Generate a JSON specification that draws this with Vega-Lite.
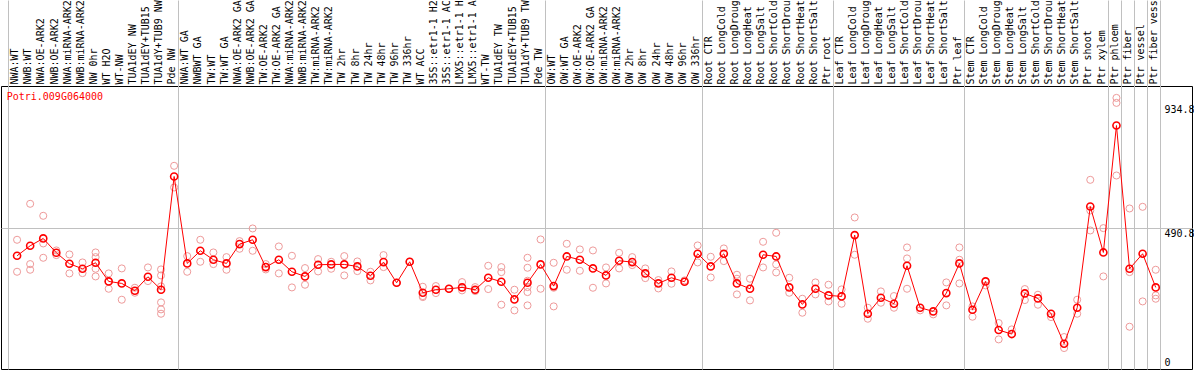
{
"$schema": "https://vega.github.io/schema/vega-lite/v6.json",
"width": 1191, "height": 283,
"autosize": {"type": "none"},
"padding": {"left": 1, "top": 86, "right": 2, "bottom": 1},
"background": "white",
"config": {"view": {"stroke": "black", "strokeWidth": 1}},
"datasets": {
"means": [
{"s":"NWA:WT","v":391.7},{"s":"NWB:WT","v":427.5},{"s":"NWA:OE-ARK2","v":453.8},{"s":"NWB:OE-ARK2","v":402.4},{"s":"NWA:miRNA-ARK2","v":363.1},{"s":"NWB:miRNA-ARK2","v":345.2},{"s":"NW 0hr","v":366.6},{"s":"WT H2O","v":299.8},{"s":"WT-NW","v":292.6},{"s":"TUA1dEY NW","v":266.4},{"s":"TUA1dEY+TUB15","v":316.5},{"s":"TUA1dY+TUB9 NW","v":270.0},{"s":"Pde NW","v":675.8},
{"s":"NWA:WT GA","v":364.3},{"s":"NWBWT GA","v":409.6},{"s":"TW:WT","v":377.4},{"s":"TW:WT GA","v":364.3},{"s":"NWA:OE-ARK2 GA","v":433.5},{"s":"NWB:OE-ARK2 GA","v":449.0},{"s":"TW:OE-ARK2","v":351.1},{"s":"TW:OE-ARK2 GA","v":377.4},{"s":"NWA:miRNA-ARK2 ","v":334.4},{"s":"NWB:miRNA-ARK2 ","v":317.7},{"s":"TW:miRNA-ARK2","v":359.5},{"s":"TW:miRNA-ARK2 ","v":360.7},{"s":"TW 2hr","v":360.7},{"s":"TW 8hr","v":353.5},{"s":"TW 24hr","v":320.1},{"s":"TW 48hr","v":369.0},{"s":"TW 96hr","v":295.0},{"s":"TW 336hr","v":370.2},{"s":"WT ACC","v":259.2},{"s":"35S::etr1-1 H2","v":270.0},{"s":"35S::etr1-1 AC","v":273.5},{"s":"LMX5::etr1-1 H","v":278.3},{"s":"LMX5::etr1-1 A","v":270.0},{"s":"WT-TW","v":312.9},{"s":"TUA1dEY TW","v":298.6},{"s":"TUA1dEY+TUB15 ","v":235.4},{"s":"TUA1dY+TUB9 TW","v":295.0},{"s":"Pde TW","v":360.7},
{"s":"OW:WT","v":283.1},{"s":"OW:WT GA","v":389.3},{"s":"OW:OE-ARK2","v":377.4},{"s":"OW:OE-ARK2 GA","v":346.4},{"s":"OW:miRNA-ARK2","v":321.3},{"s":"OW:miRNA-ARK2 ","v":373.8},{"s":"OW 2hr","v":369.0},{"s":"OW 8hr","v":328.5},{"s":"OW 24hr","v":292.6},{"s":"OW 48hr","v":312.9},{"s":"OW 96hr","v":298.6},{"s":"OW 336hr","v":398.9},
{"s":"Root CTR","v":353.5},{"s":"Root LongCold","v":398.9},{"s":"Root LongDroug","v":292.6},{"s":"Root LongHeat","v":273.5},{"s":"Root LongSalt","v":395.3},{"s":"Root ShortCold","v":389.3},{"s":"Root ShortDrou","v":278.3},{"s":"Root ShortHeat","v":217.5},{"s":"Root ShortSalt","v":273.5},{"s":"Ptr root","v":249.7},
{"s":"Leaf CTR","v":246.1},{"s":"Leaf LongCold","v":465.7},{"s":"Leaf LongDroug","v":184.0},{"s":"Leaf LongHeat","v":241.3},{"s":"Leaf LongSalt","v":219.8},{"s":"Leaf ShortCold","v":355.9},{"s":"Leaf ShortDrou","v":205.5},{"s":"Leaf ShortHeat","v":192.4},{"s":"Leaf ShortSalt","v":258.0},{"s":"Ptr leaf","v":364.3},
{"s":"Stem CTR","v":198.4},{"s":"Stem LongCold","v":299.8},{"s":"Stem LongDroug","v":125.6},{"s":"Stem LongHeat","v":111.2},{"s":"Stem LongSalt","v":256.8},{"s":"Stem ShortCold","v":238.9},{"s":"Stem ShortDrou","v":184.0},{"s":"Stem ShortHeat","v":76.6},{"s":"Stem ShortSalt","v":205.5},{"s":"Ptr shoot","v":568.3},{"s":"Ptr xylem","v":403.6},
{"s":"Ptr phloem","v":858.4},{"s":"Ptr fiber","v":345.2},{"s":"Ptr vessel","v":398.9},{"s":"Ptr fiber vess","v":278.3}
],
"reps": [
{"s":"NWA:WT","v":449.0},{"s":"NWA:WT","v":334.4},
{"s":"NWB:WT","v":577.9},{"s":"NWB:WT","v":361.9},{"s":"NWB:WT","v":341.6},
{"s":"NWA:OE-ARK2","v":534.9},{"s":"NWA:OE-ARK2","v":435.9},{"s":"NWA:OE-ARK2","v":384.5},
{"s":"NWB:OE-ARK2","v":410.8},{"s":"NWB:OE-ARK2","v":394.1},
{"s":"NWA:miRNA-ARK2","v":396.5},{"s":"NWA:miRNA-ARK2","v":328.5},
{"s":"NWB:miRNA-ARK2","v":367.8},{"s":"NWB:miRNA-ARK2","v":329.6},
{"s":"NW 0hr","v":403.6},{"s":"NW 0hr","v":386.9},{"s":"NW 0hr","v":345.2},{"s":"NW 0hr","v":317.7},
{"s":"WT H2O","v":328.5},{"s":"WT H2O","v":273.5},{"s":"WT H2O","v":299.8},
{"s":"WT-NW","v":346.4},{"s":"WT-NW","v":234.2},
{"s":"TUA1dEY NW","v":277.1},{"s":"TUA1dEY NW","v":259.2},
{"s":"TUA1dEY+TUB15","v":349.9},{"s":"TUA1dEY+TUB15","v":301.0},
{"s":"TUA1dY+TUB9 NW","v":342.8},{"s":"TUA1dY+TUB9 NW","v":321.3},{"s":"TUA1dY+TUB9 NW","v":281.9},{"s":"TUA1dY+TUB9 NW","v":224.6},{"s":"TUA1dY+TUB9 NW","v":199.6},{"s":"TUA1dY+TUB9 NW","v":184.0},
{"s":"Pde NW","v":714.0},{"s":"Pde NW","v":636.4},
{"s":"NWA:WT GA","v":390.5},{"s":"NWA:WT GA","v":334.4},
{"s":"NWBWT GA","v":449.0},{"s":"NWBWT GA","v":370.2},
{"s":"TW:WT","v":403.6},{"s":"TW:WT","v":361.9},
{"s":"TW:WT GA","v":386.9},{"s":"TW:WT GA","v":341.6},
{"s":"NWA:OE-ARK2 GA","v":444.2},{"s":"NWA:OE-ARK2 GA","v":416.8},
{"s":"NWB:OE-ARK2 GA","v":489.6},{"s":"NWB:OE-ARK2 GA","v":409.6},
{"s":"TW:OE-ARK2","v":361.9},{"s":"TW:OE-ARK2","v":342.8},
{"s":"TW:OE-ARK2 GA","v":425.1},{"s":"TW:OE-ARK2 GA","v":328.5},
{"s":"NWA:miRNA-ARK2 ","v":391.7},{"s":"NWA:miRNA-ARK2 ","v":278.3},
{"s":"NWB:miRNA-ARK2 ","v":347.6},{"s":"NWB:miRNA-ARK2 ","v":287.9},
{"s":"TW:miRNA-ARK2","v":379.8},{"s":"TW:miRNA-ARK2","v":335.6},
{"s":"TW:miRNA-ARK2 ","v":370.2},{"s":"TW:miRNA-ARK2 ","v":345.2},
{"s":"TW 2hr","v":390.5},{"s":"TW 2hr","v":321.3},
{"s":"TW 8hr","v":371.4},{"s":"TW 8hr","v":336.8},
{"s":"TW 24hr","v":334.4},{"s":"TW 24hr","v":303.4},
{"s":"TW 48hr","v":394.1},{"s":"TW 48hr","v":351.1},
{"s":"TW 96hr","v":295.0},
{"s":"TW 336hr","v":370.2},
{"s":"WT ACC","v":280.7},{"s":"WT ACC","v":247.3},{"s":"WT ACC","v":243.7},
{"s":"35S::etr1-1 H2","v":283.1},{"s":"35S::etr1-1 H2","v":258.0},
{"s":"35S::etr1-1 AC","v":273.5},
{"s":"LMX5::etr1-1 H","v":297.4},{"s":"LMX5::etr1-1 H","v":267.6},
{"s":"LMX5::etr1-1 A","v":279.5},{"s":"LMX5::etr1-1 A","v":265.2},
{"s":"WT-TW","v":355.9},{"s":"WT-TW","v":272.4},
{"s":"TUA1dEY TW","v":351.1},{"s":"TUA1dEY TW","v":333.2},{"s":"TUA1dEY TW","v":216.3},
{"s":"TUA1dEY+TUB15 ","v":270.0},{"s":"TUA1dEY+TUB15 ","v":196.0},
{"s":"TUA1dY+TUB9 TW","v":384.5},{"s":"TUA1dY+TUB9 TW","v":348.7},{"s":"TUA1dY+TUB9 TW","v":302.2},{"s":"TUA1dY+TUB9 TW","v":279.5},{"s":"TUA1dY+TUB9 TW","v":261.6},{"s":"TUA1dY+TUB9 TW","v":213.9},
{"s":"Pde TW","v":450.2},{"s":"Pde TW","v":273.5},
{"s":"OW:WT","v":366.6},{"s":"OW:WT","v":277.1},{"s":"OW:WT","v":210.3},
{"s":"OW:WT GA","v":434.7},{"s":"OW:WT GA","v":341.6},
{"s":"OW:OE-ARK2","v":414.4},{"s":"OW:OE-ARK2","v":338.0},
{"s":"OW:OE-ARK2 GA","v":410.8},{"s":"OW:OE-ARK2 GA","v":277.1},
{"s":"OW:miRNA-ARK2","v":349.9},{"s":"OW:miRNA-ARK2","v":292.6},
{"s":"OW:miRNA-ARK2 ","v":402.4},{"s":"OW:miRNA-ARK2 ","v":346.4},
{"s":"OW 2hr","v":386.9},{"s":"OW 2hr","v":358.3},
{"s":"OW 8hr","v":346.4},{"s":"OW 8hr","v":311.7},
{"s":"OW 24hr","v":304.6},{"s":"OW 24hr","v":274.7},
{"s":"OW 48hr","v":335.6},{"s":"OW 48hr","v":291.5},
{"s":"OW 96hr","v":303.4},
{"s":"OW 336hr","v":428.7},{"s":"OW 336hr","v":367.8},
{"s":"Root CTR","v":388.1},{"s":"Root CTR","v":314.1},
{"s":"Root LongCold","v":418.0},{"s":"Root LongCold","v":372.6},
{"s":"Root LongDroug","v":323.7},{"s":"Root LongDroug","v":309.4},{"s":"Root LongDroug","v":253.3},
{"s":"Root LongHeat","v":309.4},{"s":"Root LongHeat","v":231.8},
{"s":"Root LongSalt","v":441.8},{"s":"Root LongSalt","v":349.9},
{"s":"Root ShortCold","v":474.1},{"s":"Root ShortCold","v":360.7},{"s":"Root ShortCold","v":332.0},
{"s":"Root ShortDrou","v":312.9},{"s":"Root ShortDrou","v":259.2},
{"s":"Root ShortHeat","v":237.7},{"s":"Root ShortHeat","v":187.6},
{"s":"Root ShortSalt","v":296.2},{"s":"Root ShortSalt","v":253.3},
{"s":"Ptr root","v":287.9},{"s":"Ptr root","v":228.2},
{"s":"Leaf CTR","v":271.2},{"s":"Leaf CTR","v":219.8},
{"s":"Leaf LongCold","v":529.0},{"s":"Leaf LongCold","v":395.3},
{"s":"Leaf LongDroug","v":205.5},{"s":"Leaf LongDroug","v":166.1},
{"s":"Leaf LongHeat","v":264.0},{"s":"Leaf LongHeat","v":223.4},
{"s":"Leaf LongSalt","v":247.3},{"s":"Leaf LongSalt","v":205.5},
{"s":"Leaf ShortCold","v":421.5},{"s":"Leaf ShortCold","v":382.2},{"s":"Leaf ShortCold","v":273.5},
{"s":"Leaf ShortDrou","v":196.0},
{"s":"Leaf ShortHeat","v":181.7},
{"s":"Leaf ShortSalt","v":296.2},{"s":"Leaf ShortSalt","v":213.9},
{"s":"Ptr leaf","v":421.5},{"s":"Ptr leaf","v":377.4},{"s":"Ptr leaf","v":292.6},
{"s":"Stem CTR","v":210.3},{"s":"Stem CTR","v":173.3},
{"s":"Stem LongCold","v":285.5},
{"s":"Stem LongDroug","v":150.6},{"s":"Stem LongDroug","v":92.1},
{"s":"Stem LongHeat","v":127.9},
{"s":"Stem LongSalt","v":272.4},{"s":"Stem LongSalt","v":233.0},
{"s":"Stem ShortCold","v":252.1},{"s":"Stem ShortCold","v":216.3},
{"s":"Stem ShortDrou","v":172.1},
{"s":"Stem ShortHeat","v":100.5},{"s":"Stem ShortHeat","v":61.1},
{"s":"Stem ShortSalt","v":234.2},{"s":"Stem ShortSalt","v":184.0},
{"s":"Ptr shoot","v":663.8},{"s":"Ptr shoot","v":554.0},{"s":"Ptr shoot","v":482.4},
{"s":"Ptr xylem","v":490.8},{"s":"Ptr xylem","v":317.7},
{"s":"Ptr phloem","v":957.4},{"s":"Ptr phloem","v":939.5},{"s":"Ptr phloem","v":679.3},
{"s":"Ptr fiber","v":561.2},{"s":"Ptr fiber","v":333.2},{"s":"Ptr fiber","v":137.5},
{"s":"Ptr vessel","v":567.1},{"s":"Ptr vessel","v":228.2},
{"s":"Ptr fiber vess","v":341.6},{"s":"Ptr fiber vess","v":249.7},{"s":"Ptr fiber vess","v":237.7}
],
"gene": [{"name": "Potri.009G064000"}]
},
"resolve": {"axis": {"x": "independent"}, "scale": {"x": "shared", "y": "shared"}},
"layer": [
{
"data": {"name": "reps"},
"mark": {"type": "point", "filled": false, "color": "#ee9a9a", "size": 50, "strokeWidth": 1, "opacity": 1},
"encoding": {
"x": {"field": "s", "type": "nominal", "bandPosition": 0.64,
"scale": {"type": "band", "paddingInner": 0, "paddingOuter": 1.3077, "align": 0.294, "domain": ["NWA:WT","NWB:WT","NWA:OE-ARK2","NWB:OE-ARK2","NWA:miRNA-ARK2","NWB:miRNA-ARK2","NW 0hr","WT H2O","WT-NW","TUA1dEY NW","TUA1dEY+TUB15","TUA1dY+TUB9 NW","Pde NW","NWA:WT GA","NWBWT GA","TW:WT","TW:WT GA","NWA:OE-ARK2 GA","NWB:OE-ARK2 GA","TW:OE-ARK2","TW:OE-ARK2 GA","NWA:miRNA-ARK2 ","NWB:miRNA-ARK2 ","TW:miRNA-ARK2","TW:miRNA-ARK2 ","TW 2hr","TW 8hr","TW 24hr","TW 48hr","TW 96hr","TW 336hr","WT ACC","35S::etr1-1 H2","35S::etr1-1 AC","LMX5::etr1-1 H","LMX5::etr1-1 A","WT-TW","TUA1dEY TW","TUA1dEY+TUB15 ","TUA1dY+TUB9 TW","Pde TW","OW:WT","OW:WT GA","OW:OE-ARK2","OW:OE-ARK2 GA","OW:miRNA-ARK2","OW:miRNA-ARK2 ","OW 2hr","OW 8hr","OW 24hr","OW 48hr","OW 96hr","OW 336hr","Root CTR","Root LongCold","Root LongDroug","Root LongHeat","Root LongSalt","Root ShortCold","Root ShortDrou","Root ShortHeat","Root ShortSalt","Ptr root","Leaf CTR","Leaf LongCold","Leaf LongDroug","Leaf LongHeat","Leaf LongSalt","Leaf ShortCold","Leaf ShortDrou","Leaf ShortHeat","Leaf ShortSalt","Ptr leaf","Stem CTR","Stem LongCold","Stem LongDroug","Stem LongHeat","Stem LongSalt","Stem ShortCold","Stem ShortDrou","Stem ShortHeat","Stem ShortSalt","Ptr shoot","Ptr xylem","Ptr phloem","Ptr fiber","Ptr vessel","Ptr fiber vess",""]},
"axis": {"orient": "top", "title": null, "labelAngle": -90, "labelAlign": "left", "labelBaseline": "middle", "ticks": false, "domain": false, "grid": false, "labelPadding": 2, "labelFont": "DejaVu Sans Mono", "labelFontSize": 10, "labelColor": "black", "labelLimit": 300, "labelOverlap": false, "labelBound": false, "labelFlush": false}},
"y": {"field": "v", "type": "quantitative",
"scale": {"domain": [-14, 1000], "nice": false, "zero": false},
"axis": {"orient": "right", "offset": -37, "title": null, "values": [0, 490.8, 934.8], "format": ".4~", "domain": false, "ticks": false, "labelPadding": 9, "labelAlign": "left", "labelFont": "DejaVu Sans Mono", "labelFontSize": 10, "labelColor": "black", "labelFlush": false, "labelOverlap": false, "labelBound": false,
"labelBaseline": {"condition": {"test": "datum.value == 0", "value": "alphabetic"}, "value": "top"},
"grid": true, "gridColor": "#c0c0c0", "gridWidth": 1,
"gridOpacity": {"condition": {"test": "datum.value == 490.8", "value": 1}, "value": 0}}}
}
},
{
"data": {"name": "means"},
"mark": {"type": "line", "color": "#ff0000", "strokeWidth": 1},
"encoding": {
"x": {"field": "s", "type": "nominal", "bandPosition": 0.64,
"axis": {"orient": "bottom", "title": null, "values": ["NWA:WT","NWA:WT GA","OW:WT","Root CTR","Leaf CTR","Stem CTR","Ptr phloem","Ptr fiber","Ptr vessel","Ptr fiber vess",""], "bandPosition": 0, "labels": false, "domain": false, "grid": false, "ticks": true, "tickSize": -369, "tickColor": "#c0c0c0", "tickWidth": 1}},
"y": {"field": "v", "type": "quantitative"},
"order": {"value": null}
}
},
{
"data": {"name": "means"},
"mark": {"type": "point", "filled": false, "color": "#ff0000", "size": 50, "strokeWidth": 1.6, "opacity": 1},
"encoding": {
"x": {"field": "s", "type": "nominal", "bandPosition": 0.64, "axis": null},
"y": {"field": "v", "type": "quantitative"}
}
},
{
"data": {"name": "gene"},
"mark": {"type": "rule", "color": "black", "strokeWidth": 1},
"encoding": {
"x": {"datum": "NWA:WT", "type": "nominal", "bandPosition": -0.77, "axis": null},
"y": {"datum": 1000, "type": "quantitative"},
"y2": {"datum": 1320}
}
},
{
"data": {"name": "gene"},
"mark": {"type": "text", "align": "left", "baseline": "middle", "font": "DejaVu Sans Mono", "fontSize": 10, "color": "#ff0000", "dx": -2},
"encoding": {
"x": {"datum": "NWA:WT", "type": "nominal", "bandPosition": 0, "axis": null},
"y": {"datum": 962, "type": "quantitative"},
"text": {"field": "name"}
}
}
]
}
